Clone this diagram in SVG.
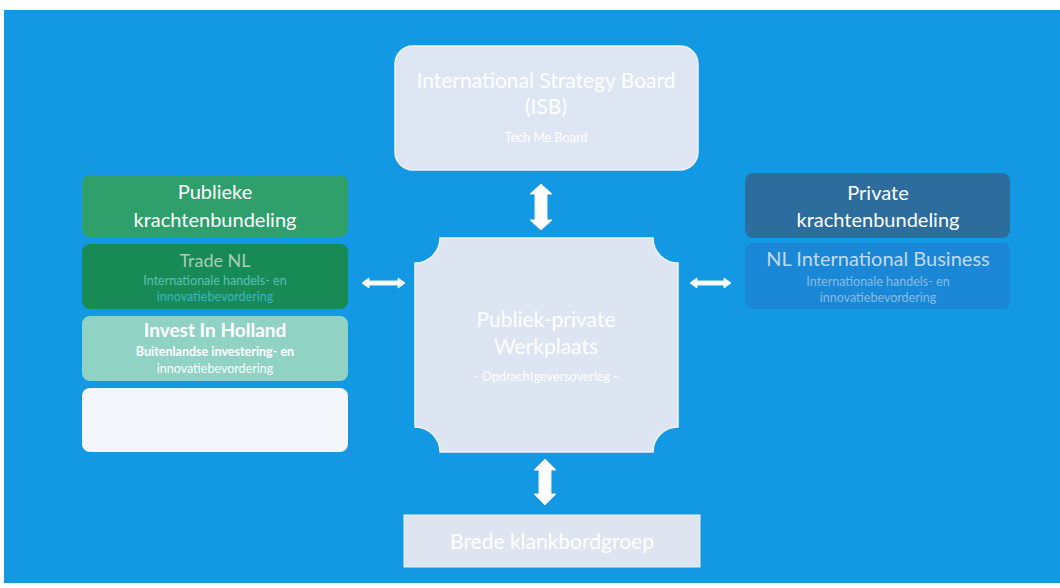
<svg xmlns="http://www.w3.org/2000/svg" width="1060" height="588" viewBox="0 0 1060 588">
  <defs>
    <style>
      text { font-family: Lato, "Open Sans", "Liberation Sans", sans-serif; text-anchor: middle; }
      .title { fill: #ffffff; }
      .sub { font-size: 12.5px; }
      .arrow { fill: #ffffff; stroke: #e8eef8; stroke-width: 1; }
    </style>
  </defs>

  <!-- page background -->
  <rect x="0" y="0" width="1060" height="588" fill="#ffffff"/>
  <rect x="4" y="10" width="1056" height="573" fill="#1399e3"/>

  <!-- top board -->
  <g id="isb">
    <rect x="395" y="46" width="303" height="124" rx="18" fill="#dfe6f3" stroke="#eef2f9" stroke-width="1.5"/>
    <text class="title" x="546" y="88" style="font-size:21px">International Strategy Board</text>
    <text class="title" x="546" y="114" style="font-size:21px">(ISB)</text>
    <text class="sub" x="546" y="142" fill="#ffffff">Tech Me Board</text>
  </g>

  <!-- public column -->
  <g id="publiek">
    <rect x="82" y="175" width="266" height="62" rx="8" fill="#2f9f6c"/>
    <text class="title" x="215" y="199" style="font-size:20px">Publieke</text>
    <text class="title" x="215" y="227" style="font-size:20px">krachtenbundeling</text>
  </g>
  <g id="trade-nl">
    <rect x="82" y="244" width="266" height="65" rx="8" fill="#178a56"/>
    <text x="215" y="267" style="font-size:18px" fill="#a9cdbc">Trade NL</text>
    <text class="sub" x="215" y="285" fill="#5cc0b4">Internationale handels- en</text>
    <text class="sub" x="215" y="301" fill="#3fb3c6">innovatiebevordering</text>
  </g>
  <g id="invest-in-holland">
    <rect x="82" y="316" width="266" height="65" rx="8" fill="#90d2c4"/>
    <text x="215" y="337" style="font-size:19px;font-weight:bold" fill="#ffffff">Invest In Holland</text>
    <text class="sub" x="215" y="356" fill="#ffffff" style="font-weight:bold">Buitenlandse investering- en</text>
    <text class="sub" x="215" y="373" fill="#ffffff">innovatiebevordering</text>
  </g>
  <g id="leeg">
    <rect x="82" y="388" width="266" height="64" rx="8" fill="#f3f7fb"/>
  </g>

  <!-- private column -->
  <g id="private">
    <rect x="745" y="173" width="265" height="65" rx="8" fill="#2c6d9e"/>
    <text class="title" x="878" y="200" style="font-size:20px" fill="#eef3f8">Private</text>
    <text class="title" x="878" y="227" style="font-size:20px" fill="#eef3f8">krachtenbundeling</text>
  </g>
  <g id="nl-international-business">
    <rect x="745" y="243" width="265" height="66" rx="8" fill="#1a88d6"/>
    <text x="878" y="266" style="font-size:20px" fill="#c4d9ef">NL International Business</text>
    <text class="sub" x="878" y="286" fill="#86bce8">Internationale handels- en</text>
    <text class="sub" x="878" y="302" fill="#86bce8">innovatiebevordering</text>
  </g>

  <!-- central workshop with notched corners -->
  <g id="werkplaats">
    <path d="M440 238 H653 A25 25 0 0 0 678 263 V427 A25 25 0 0 0 653 452 H440 A25 25 0 0 0 415 427 V263 A25 25 0 0 0 440 238 Z" fill="#dde5f2" stroke="#eef2f9" stroke-width="1.5"/>
    <text class="title" x="546" y="327" style="font-size:21px">Publiek-private</text>
    <text class="title" x="546" y="354" style="font-size:21px">Werkplaats</text>
    <text class="sub" x="546" y="381" fill="#ffffff">- Opdrachtgeversoverleg -</text>
  </g>

  <!-- sounding board -->
  <g id="klankbordgroep">
    <rect x="404" y="515" width="296" height="52" fill="#dfe5f0" stroke="#eef2f9" stroke-width="1"/>
    <text class="title" x="552" y="549" style="font-size:21px">Brede klankbordgroep</text>
  </g>

  <!-- connectors: block double arrows -->
  <g id="connectors">
    <path class="arrow" d="M541 184 L552 194 L547 194 L547 220 L552 220 L541 230 L530 220 L535 220 L535 194 L530 194 Z"/>
    <path class="arrow" d="M545 459 L556 470 L551 470 L551 494 L556 494 L545 505 L534 494 L539 494 L539 470 L534 470 Z"/>
    <path class="arrow" d="M362 283 L369 278 L369 281 L398 281 L398 278 L405 283 L398 288 L398 285 L369 285 L369 288 Z"/>
    <path class="arrow" d="M690 283 L697 278 L697 281 L724 281 L724 278 L731 283 L724 288 L724 285 L697 285 L697 288 Z"/>
  </g>
</svg>
